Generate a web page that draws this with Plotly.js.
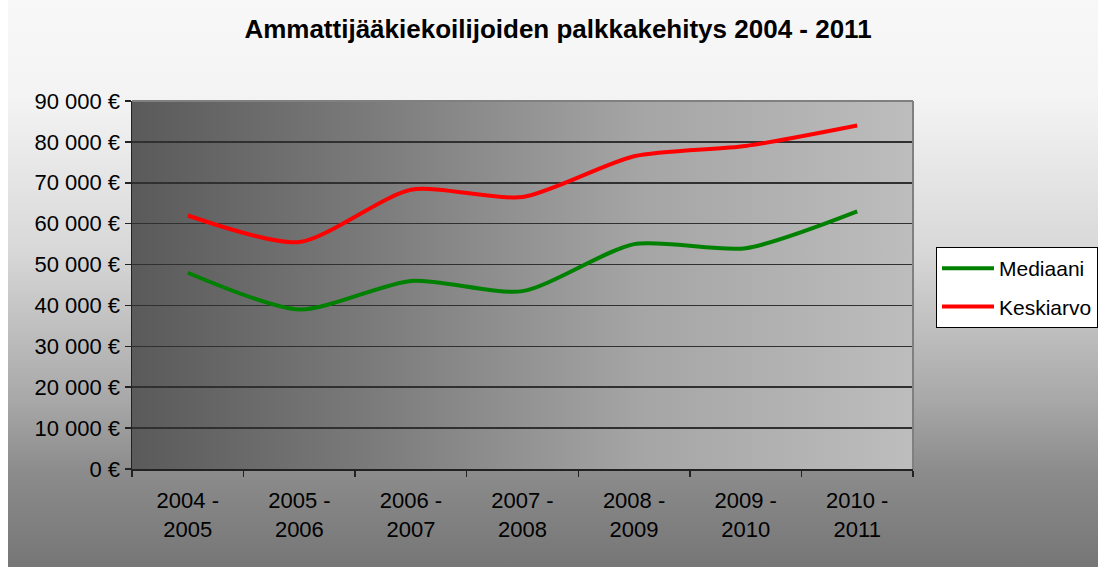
<!DOCTYPE html>
<html>
<head>
<meta charset="utf-8">
<script src="https://cdn.plot.ly/plotly-3.0.1.min.js"></script>
<style>
  html, body { margin: 0; padding: 0; background: #ffffff; }
  #chart {
    width: 1098px; height: 567px;
    background:
      linear-gradient(to right, #5a5a5a 0%, #7a7a7a 30%, #a5a5a5 65%, #bdbdbd 100%) 132px 101px / 781px 368px no-repeat,
      linear-gradient(#ffffff, #ffffff) 0 0 / 8px 100% no-repeat,
      linear-gradient(to bottom, #f8f8f8 0px, #f3f3f3 100px, #d8d8d8 250px, #a8a8a8 400px, #8c8c8c 470px, #767676 567px);
  }
</style>
</head>
<body>
<div id="chart"></div>
<script>
const categories = ["2004 -<br>2005", "2005 -<br>2006", "2006 -<br>2007", "2007 -<br>2008", "2008 -<br>2009", "2009 -<br>2010", "2010 -<br>2011"];
const mediaani = [48000, 39000, 46000, 43500, 55000, 54000, 63000];
const keskiarvo = [62000, 55500, 68300, 66500, 76500, 79000, 84000];
const seriesNames = ["Mediaani", "Keskiarvo"];
const chartTitle = "Ammattijääkiekoilijoiden palkkakehitys 2004 - 2011";

const FONT = "Liberation Sans, Arial, sans-serif";

const traces = [
  {
    x: categories, y: mediaani, name: seriesNames[0], type: "scatter", mode: "lines",
    line: { color: "#008000", width: 4, shape: "spline", smoothing: 0.7 },
    legendgroup: "a", hoverinfo: "skip"
  },
  {
    x: categories, y: keskiarvo, name: seriesNames[1], type: "scatter", mode: "lines",
    line: { color: "#ff0000", width: 4, shape: "spline", smoothing: 0.7 },
    legendgroup: "b", hoverinfo: "skip"
  }
];

const layout = {
  width: 1098, height: 567,
  margin: { l: 132, r: 185, t: 101, b: 98, pad: 0 },
  paper_bgcolor: "rgba(0,0,0,0)",
  plot_bgcolor: "rgba(0,0,0,0)",
  separators: ", ",
  font: { family: FONT, color: "#000000", size: 21 },
  title: {
    text: "<b>" + chartTitle + "</b>",
    font: { family: FONT, size: 26, color: "#000000" },
    xref: "container", yref: "container",
    x: 558 / 1098, xanchor: "center",
    y: 1 - 29 / 567, yanchor: "middle"
  },
  xaxis: {
    type: "category",
    showgrid: false,
    showline: true, linecolor: "#222222", linewidth: 1.5,
    ticks: "outside", ticklen: 6, tickcolor: "#222222", tickwidth: 1.5,
    tickson: "boundaries",
    ticklabelstandoff: 11,
    tickfont: { family: FONT, size: 22, color: "#000000" },
    range: [-0.5, 6.5],
    fixedrange: true
  },
  yaxis: {
    range: [0, 90000], dtick: 10000, tick0: 0,
    tickformat: ",d", ticksuffix: " €",
    showgrid: true, gridcolor: "#303030", gridwidth: 1.5,
    zeroline: false,
    showline: true, linecolor: "#222222", linewidth: 1.5,
    ticks: "outside", ticklen: 6, tickcolor: "#222222", tickwidth: 1.5,
    ticklabelstandoff: 0,
    tickfont: { family: FONT, size: 22, color: "#000000" },
    fixedrange: true
  },
  shapes: [
    { type: "line", xref: "paper", yref: "paper", x0: 0, x1: 1, y0: 1, y1: 1,
      line: { color: "#808080", width: 2 } },
    { type: "line", xref: "paper", yref: "paper", x0: 1, x1: 1, y0: 0, y1: 1,
      line: { color: "#808080", width: 2 } }
  ],
  showlegend: true,
  legend: {
    xref: "container", yref: "container",
    x: 936 / 1098, xanchor: "left",
    y: 1 - 247 / 567, yanchor: "top",
    bgcolor: "#ffffff", bordercolor: "#000000", borderwidth: 1,
    font: { family: FONT, size: 21, color: "#000000" },
    tracegroupgap: 8,
    itemwidth: 52
  }
};

Plotly.newPlot("chart", traces, layout, { displayModeBar: false, staticPlot: true });
</script>
</body>
</html>
